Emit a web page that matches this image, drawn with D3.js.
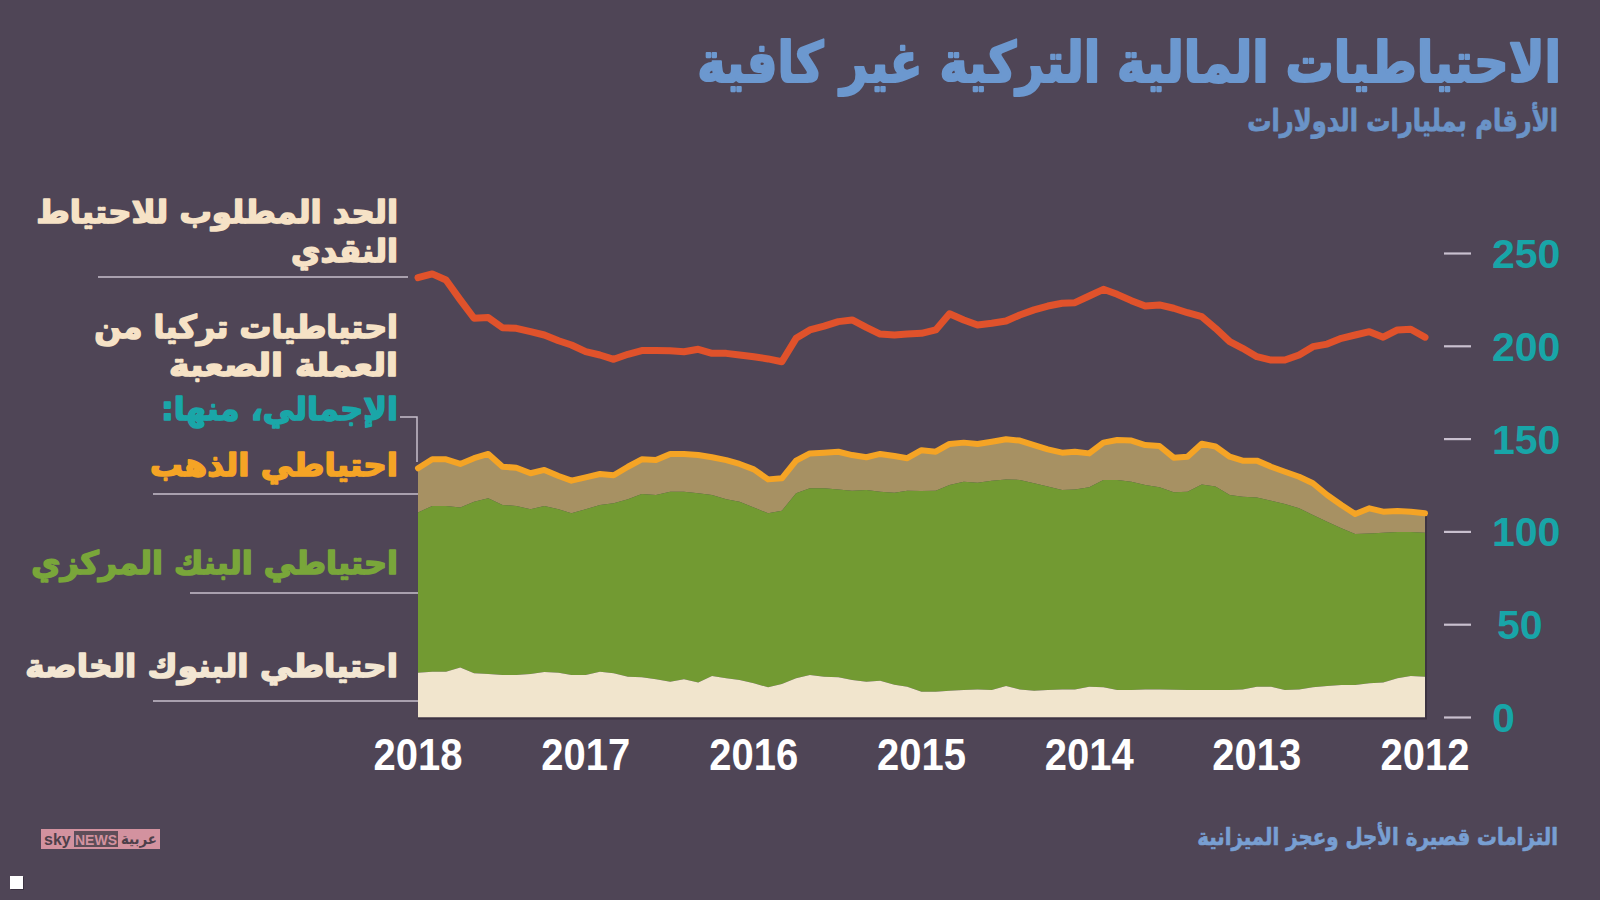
<!DOCTYPE html>
<html><head><meta charset="utf-8">
<script src="https://cdn.jsdelivr.net/npm/d3@7"></script>
<style>html,body{margin:0;padding:0;background:#4f4556;} svg{display:block}</style>
</head><body><svg id="c" width="1600" height="900"></svg>
<script>
// ---- data (left to right on the chart: Jan 2018 back to Jan 2012), billions of USD ----
const months = ("2018-01 2017-12 2017-11 2017-10 2017-09 2017-08 2017-07 2017-06 2017-05 2017-04 2017-03 2017-02 2017-01 " +
  "2016-12 2016-11 2016-10 2016-09 2016-08 2016-07 2016-06 2016-05 2016-04 2016-03 2016-02 2016-01 " +
  "2015-12 2015-11 2015-10 2015-09 2015-08 2015-07 2015-06 2015-05 2015-04 2015-03 2015-02 2015-01 " +
  "2014-12 2014-11 2014-10 2014-09 2014-08 2014-07 2014-06 2014-05 2014-04 2014-03 2014-02 2014-01 " +
  "2013-12 2013-11 2013-10 2013-09 2013-08 2013-07 2013-06 2013-05 2013-04 2013-03 2013-02 2013-01 " +
  "2012-12 2012-11 2012-10 2012-09 2012-08 2012-07 2012-06 2012-05 2012-04 2012-03 2012-02 2012-01").split(" ");

// required cash reserve (red line)
const requiredReserve = [237.0,239.0,235.7,225.0,215.1,215.5,210.0,209.7,207.9,206.1,203.0,200.7,197.1,
  195.3,193.0,195.7,197.7,197.7,197.6,197.1,198.4,196.2,196.2,195.3,194.4,
  193.2,191.7,204.3,208.8,210.9,213.3,214.2,210.2,206.6,206.1,206.6,207.0,
  208.8,217.5,214.2,211.5,212.4,213.6,216.9,219.6,221.7,223.2,223.5,227.1,
  230.7,228.0,224.6,221.7,222.3,220.5,218.1,216.0,209.7,202.5,198.9,194.4,
  192.6,192.6,195.3,199.8,201.2,204.3,206.1,207.9,204.9,208.8,209.2,204.9];

// total FX reserves (orange line = top of gold layer)
const totalReserves = [134.3,139.1,139.1,136.6,139.7,142.0,135.1,134.6,131.6,133.4,130.1,127.6,129.4,
  131.2,130.5,135.1,139.1,138.7,142.0,142.0,141.4,140.2,138.7,136.6,133.7,
  128.3,128.9,138.4,142.3,142.7,143.2,141.4,140.2,142.0,140.9,139.7,144.0,
  143.2,147.4,148.1,147.4,148.6,149.9,149.2,146.8,144.5,142.7,143.2,142.3,
  148.1,149.5,149.2,146.8,146.3,140.0,140.5,147.5,146.0,140.5,138.4,138.4,
  135.1,132.4,129.7,126.2,119.9,114.5,109.6,112.7,110.9,111.3,110.9,110.0];

// private banks + central bank (top of green layer)
const withCentralBank = [110.5,114.0,114.0,113.2,116.3,118.1,114.5,114.0,112.2,114.0,112.2,110.0,112.2,
  114.5,115.4,117.6,120.4,119.9,121.6,121.7,120.8,119.9,117.6,116.3,113.2,
  110.0,111.4,120.8,123.5,123.5,122.9,122.2,122.6,121.7,121.1,122.2,122.0,
  122.2,125.3,127.0,126.5,127.6,128.3,128.0,126.2,124.4,122.6,122.9,124.0,
  128.0,128.0,127.0,125.3,124.0,121.4,121.7,125.5,124.4,119.9,119.0,118.6,
  116.8,115.0,112.7,109.1,105.5,101.9,98.9,99.2,99.6,99.9,99.9,99.6];

// private banks (cream layer)
const privateBanks = [24.1,24.7,24.7,27.0,23.8,23.4,22.9,22.9,23.4,24.5,24.1,22.9,22.9,
  24.7,23.8,22.0,21.7,20.6,19.3,20.6,18.8,22.4,21.1,20.2,18.4,
  16.3,18.0,21.1,22.9,22.0,21.7,20.2,19.3,19.8,17.7,16.6,13.9,
  13.9,14.4,14.8,15.1,14.8,17.0,15.1,14.4,14.8,15.1,15.1,16.6,
  16.3,14.8,14.8,15.1,15.1,15.0,14.8,14.8,14.8,14.8,15.1,16.6,
  16.6,14.8,15.1,16.3,17.0,17.5,17.5,18.4,18.8,21.1,22.4,22.0];

const yearTicks = ["2018","2017","2016","2015","2014","2013","2012"];
const valueTicks = [0,50,100,150,200,250];

// ---- drawing ----
const svg = d3.select("#c");
const W = 1600, H = 900;
svg.append("rect").attr("width", W).attr("height", H).attr("fill", "#4f4556");

const parse = d3.timeParse("%Y-%m");
const rows = months.map((m, i) => ({
  date: parse(m), req: requiredReserve[i], total: totalReserves[i],
  cb: withCentralBank[i], pb: privateBanks[i]
}));

const x = d3.scaleTime().domain([parse("2018-01"), parse("2012-01")]).range([418, 1425]);
const y = d3.scaleLinear().domain([0, 250]).range([717.5, 253.5]);

const AR = "'DejaVu Sans', sans-serif";
const LAT = "'Liberation Sans', Arial, sans-serif";

function fit(sel, width) {
  const w = sel.node().getComputedTextLength();
  const sx = width / w;
  const x0 = +sel.attr("x");
  sel.attr("transform", `translate(${x0},0) scale(${sx},1) translate(${-x0},0)`);
  return sel;
}
function arText(txt, xr, yb, size, color, width, sw) {
  const t = svg.append("text").attr("x", xr).attr("y", yb)
    .attr("direction", "rtl").attr("text-anchor", "start")
    .attr("font-family", AR).attr("font-weight", "bold")
    .attr("font-size", size).attr("fill", color)
    .attr("stroke", color).attr("stroke-width", sw || 0).attr("stroke-linejoin", "round")
    .text(txt);
  if (width) fit(t, width);
  return t;
}

// areas
const areaPB = d3.area().x(d => x(d.date)).y0(y(0)).y1(d => y(d.pb));
const areaCB = d3.area().x(d => x(d.date)).y0(d => y(d.pb)).y1(d => y(d.cb));
const areaGold = d3.area().x(d => x(d.date)).y0(d => y(d.cb)).y1(d => y(d.total));

svg.append("path").datum(rows).attr("d", areaGold).attr("fill", "#a79163");
svg.append("path").datum(rows).attr("d", areaCB).attr("fill", "#729a32");
svg.append("path").datum(rows).attr("d", areaPB).attr("fill", "#f1e5cd");
// subtle dark edge at bottom/right
svg.append("path").attr("d", `M${x(parse("2018-01"))},${y(0)+1}H${x(parse("2012-01"))+1}V${y(totalReserves[72])}`)
  .attr("fill", "none").attr("stroke", "#3c3342").attr("stroke-width", 2);

const lineTotal = d3.line().x(d => x(d.date)).y(d => y(d.total));
const lineReq = d3.line().x(d => x(d.date)).y(d => y(d.req));
svg.append("path").datum(rows).attr("d", lineTotal).attr("fill", "none")
  .attr("stroke", "#f5a425").attr("stroke-width", 6).attr("stroke-linejoin", "round").attr("stroke-linecap", "round");
svg.append("path").datum(rows).attr("d", lineReq).attr("fill", "none")
  .attr("stroke", "#e0522b").attr("stroke-width", 7).attr("stroke-linejoin", "round").attr("stroke-linecap", "round");

// y axis (right)
const yg = svg.append("g");
valueTicks.forEach(v => {
  yg.append("line").attr("x1", 1444).attr("x2", 1471).attr("y1", y(v)).attr("y2", y(v))
    .attr("stroke", "#c9c0cf").attr("stroke-width", 2.2);
  yg.append("text").attr("x", v === 50 ? 1497 : 1492).attr("y", y(v) + 14.5)
    .attr("font-family", LAT).attr("font-weight", "bold").attr("font-size", 41)
    .attr("fill", "#18a5a8").text(v);
});

// x axis labels
yearTicks.forEach(yr => {
  const t = svg.append("text").attr("x", x(parse(yr + "-01"))).attr("y", 770)
    .attr("text-anchor", "middle").attr("font-family", LAT).attr("font-weight", "bold")
    .attr("font-size", 45).attr("fill", "#ffffff").text(yr);
  fit(t, 89);
});

// titles
arText("الاحتياطيات المالية التركية غير كافية", 1561, 82, 56, "#6c98cf", 864, 2.2);
arText("الأرقام بمليارات الدولارات", 1558, 131, 30, "#6a93c7", 311, 0.8);
arText("التزامات قصيرة الأجل وعجز الميزانية", 1558, 845, 24, "#789fd2", 361, 0.7);

// left labels
const cream = "#f6e2c6";
const fs = 32, sw = 1.6;
arText("الحد المطلوب للاحتياط", 398, 223, fs, cream, 362, sw);
arText("النقدي", 398, 262, fs, cream, 107, sw);
arText("احتياطيات تركيا من", 398, 338, fs, cream, 304, sw);
arText("العملة الصعبة", 398, 376, fs, cream, 229, sw);
arText("الإجمالي، منها:", 398, 420, fs, "#1aa6a8", 237, sw);
arText("احتياطي الذهب", 398, 476, fs, "#f5a425", 248, sw);
arText("احتياطي البنك المركزي", 398, 574, fs, "#79a63a", 367, sw);
arText("احتياطي البنوك الخاصة", 398, 677, fs, "#f3e6d2", 373, sw);

const lc = "#c7bfcc";
[[98, 408, 277], [153, 418, 494], [190, 418, 593], [153, 418, 701]].forEach(([a, b, yy]) => {
  svg.append("line").attr("x1", a).attr("x2", b).attr("y1", yy).attr("y2", yy)
    .attr("stroke", lc).attr("stroke-width", 1.5);
});
svg.append("path").attr("d", "M400,417H417V462").attr("fill", "none").attr("stroke", lc).attr("stroke-width", 1.5);

// logo
const lg = svg.append("g");
lg.append("rect").attr("x", 41).attr("y", 829).attr("width", 119).attr("height", 20).attr("fill", "#d3929f");
lg.append("text").attr("x", 44).attr("y", 845).attr("font-family", LAT).attr("font-weight", "bold")
  .attr("font-size", 16).attr("fill", "#4d3f4a").text("sky");
lg.append("rect").attr("x", 74).attr("y", 831).attr("width", 44).attr("height", 16).attr("fill", "#5e4d58");
lg.append("text").attr("x", 96).attr("y", 845).attr("text-anchor", "middle").attr("font-family", LAT)
  .attr("font-weight", "bold").attr("font-size", 14).attr("fill", "#d3929f").text("NEWS");
const lt = lg.append("text").attr("x", 157).attr("y", 844).attr("direction", "rtl").attr("text-anchor", "start")
  .attr("font-family", AR).attr("font-weight", "bold").attr("font-size", 15).attr("fill", "#4d3f4a").text("عربية");
fit(lt, 36);

// small white square
svg.append("rect").attr("x", 11).attr("y", 877).attr("width", 13).attr("height", 13).attr("fill", "#3a3140");
svg.append("rect").attr("x", 10).attr("y", 876).attr("width", 13).attr("height", 13).attr("fill", "#ffffff");
</script></body></html>
